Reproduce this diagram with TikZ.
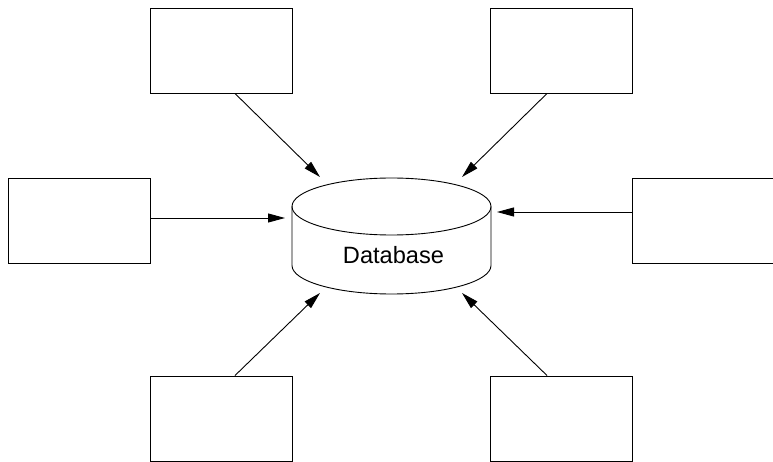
\documentclass[tikz,border=0pt]{standalone}
\usepackage{fontspec}
\setmainfont{Liberation Sans}
\usetikzlibrary{positioning}
\usetikzlibrary{arrows.meta}

\tikzset{
	client/.style={draw, line width=0.9pt, minimum width=142pt, minimum height=85pt, inner sep=0pt},
	feed/.style={line width=0.9pt, -{Triangle[length=17pt,width=9pt]}}
}

\begin{document}
\begin{tikzpicture}[x=1pt,y=-1pt]
		\fill[white] (0,0) rectangle (773,462);
		\useasboundingbox (0,0) rectangle (773,462);
		
		% database drum
		\draw[line width=0.9pt] (391.5,206.5) ellipse [x radius=99.5pt, y radius=28.5pt];
		\draw[line width=0.9pt] (292,206.5) -- (292,265.5)
			arc [start angle=180, end angle=360, x radius=99.5pt, y radius=28.5pt] -- (491,206.5);
		\node[font=\fontsize{23.6}{28}\selectfont, anchor=base] (db) at (393.5,263) {Database};
		
		\coordinate (dbnw) at (320,177);
		\coordinate (dbne) at (462,177);
		\coordinate (dbw) at (285,218);
		\coordinate (dbe) at (497,212);
		\coordinate (dbsw) at (320,293);
		\coordinate (dbse) at (462,293);
		
		% clients
		\node[client] (c1) at (221,50.5) {};
		\node[client] (c2) at (561,50.5) {};
		\node[client] (c3) at (79,220.5) {};
		\node[client] (c4) at (703,220.5) {};
		\node[client] (c5) at (221,418.5) {};
		\node[client] (c6) at (561,418.5) {};
		
		\draw[feed] (c1.-72) -- (dbnw);
		\draw[feed] (c2.-108) -- (dbne);
		\draw[feed] (c3.east |- dbw) -- (dbw);
		\draw[feed] (c4.west |- dbe) -- (dbe);
		\draw[feed] (c5.72) -- (dbsw);
		\draw[feed] (c6.108) -- (dbse);
	\end{tikzpicture}
\end{document}
